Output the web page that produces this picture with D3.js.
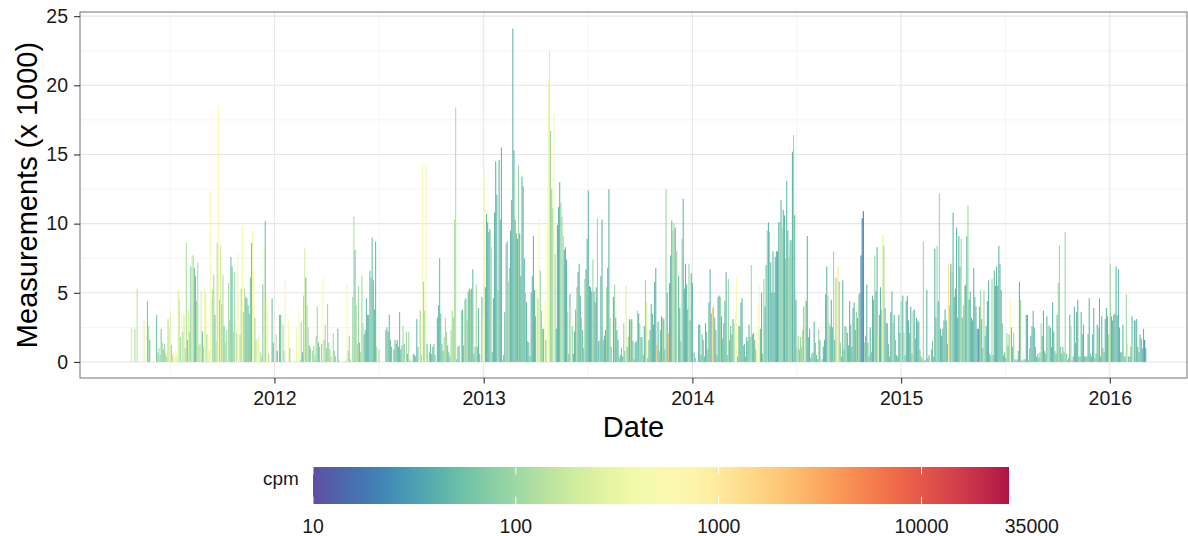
<!DOCTYPE html>
<html>
<head>
<meta charset="utf-8">
<script src="https://cdn.jsdelivr.net/npm/d3@7"></script>
<style>
  body { margin: 0; background: #fff; }
  text { font-family: "Liberation Sans", Arial, sans-serif; }
</style>
</head>
<body>
<div id="chart-area"></div>
<script>
// measurements (x 1000) in 2-day bins, each year starting at its start date
const start2011 = "2011-04-23"
const measurements2011 = [0,2.5,0,0,2.4,0,5.3,0,0,0, 0,0,3.1,0,0,4.4,2.6,1.6,0,0, 0,0,0,3.4,0.7,1.0,0.5,2.4,1.4,0.9,
  1.3,0.6,0.4,3.1,2.4,3.7,1.2,0.5,0.7,0.3, 0.8,0.4,5.2,4.5,1.8,3.4,2.2,3.4,1.0,8.6, 1.6,3.7,2.2,6.9,7.7,7.7,6.8,6.2,4.4,7.2,
  1.2,1.3,5.1,2.2,1.1,5.3,4.9,2.0,1.8,0.8, 12.4,4.5,5.2,6.3,3.4,1.5,8.6,18.5,4.5,8.4, 4.2,6.3,2.6,1.4,2.3,2.3,5.7,3.0,7.6,6.9,
  2.2,6.5,3.1,2.1,7.8,5.1,2.0,5.3,9.8,3.6, 5.3,4.7,4.6,4.1,3.5,6.1,8.6,9.5,6.7,3.2, 1.6,1.7,1.8,2.0,0.7,0.4,5.6,8.3,10.2,4.5,
  3.6,0.6,0,0,4.6,1.4]
const cpm2011 = [100,220,100,100,130,100,160,100,100,100, 100,100,260,100,100,70,130,60,100,100, 100,100,100,60,110,100,100,70,110,100,
  100,100,100,130,220,260,110,180,450,260, 450,260,220,220,110,450,110,220,130,130, 80,220,110,70,220,130,60,55,110,120,
  130,110,220,60,130,400,260,110,450,180, 550,450,130,110,60,130,120,650,110,220, 110,120,60,130,110,450,110,100,58,55,
  110,110,450,130,450,550,130,110,450,110, 120,60,58,58,60,70,58,400,450,110, 130,450,350,450,130,130,58,550,60,450,
  450,130,100,100,60,55]

const start2012 = "2012-01-01"
const measurements2012 = [0,2.0,0.8,0,3.4,3.4,0,2.7,0.8,5.9, 0,0,3.0,1.0,0,0,0,0.2,0,2.4, 0.8,3.7,0.1,2.9,0.7,4.8,8.2,6.1,4.1,2.5,
  1.2,1.0,0,0.8,1.2,0.5,1.9,4.0,1.4,1.1, 0,1.3,6.1,1.6,2.7,1.0,4.2,1.4,0.9,0.4, 0,2.1,0.8,0.4,0,2.4,0.1,0,0,0,
  0,0,0.1,5.6,0.8,1.9,0.2,0,4.7,10.5, 8.1,4.1,1.3,5.5,1.4,0.7,6.2,2.8,2.0,2.3, 4.6,3.4,3.4,6.6,6.1,9.0,5.9,3.8,8.7,1.1,
  0,0.9,0,0,0,0,0,2.3,2.5,2.2, 3.4,1.6,1.1,0,0.9,1.6,1.3,1.6,1.1,3.6, 0.9,1.2,2.6,1.3,0,2.2,0.6,2.2,0.2,0,
  0.1,0.6,0.5,0.4,3.1,1.1,0,3.7,0.5,14.3, 5.8,3.7,14.2,1.3,0,0.7,1.3,0.6,1.1,1.3, 0.5,0,3.2,4.1,7.5,3.5,1.3,0.8,1.8,3.2,
  2.2,1.2,0.7,0.4,2.3,3.7,3.2,10.3,18.4,0.2, 1.1,1.2,0,3.7,3.8,1.2,4.5,4.6,3.0,5.1, 5.3,5.2,5.3,6.7,0.6,1.1,5.6,1.1,3.9,0.6,
  0,4.7,3.2]
const cpm2012 = [100,130,45,100,60,55,100,110,100,550, 100,100,450,100,100,100,100,450,100,350, 450,450,100,110,55,120,220,60,110,110,
  60,100,100,100,110,100,100,110,60,100, 100,60,550,110,110,100,110,100,100,100, 100,110,100,100,100,55,100,100,100,100,
  100,100,100,550,100,110,100,100,110,130, 60,110,100,110,60,100,110,110,55,55, 55,55,45,58,58,55,55,55,55,100,
  100,110,100,100,100,100,100,55,55,55, 55,60,60,100,60,55,60,55,60,55, 60,60,110,60,100,110,60,110,100,100,
  100,60,60,60,55,60,100,110,100,550, 110,110,450,60,100,60,60,60,60,60, 60,100,55,55,55,55,60,60,110,110,
  110,60,60,60,110,110,110,130,130,60, 60,60,100,110,55,60,110,55,110,55, 55,110,55,55,60,60,110,60,55,60,
  100,55,450]

const start2013 = "2013-01-01"
const measurements2013 = [13.6,5.4,10.7,10.1,9.4,9.6,8.3,0.7,4.6,10.8, 14.5,12.1,5.2,14.6,10.3,15.5,0.1,0.5,3.6,8.5,
  8.7,5.8,6.8,9.5,11.7,24.1,15.3,10.3,9.3,8.9, 14.2,9.3,6.2,13.4,12.7,7.5,5.0,4.3,1.5,1.4, 0.4,5.0,6.2,9.1,5.2,3.3,5.3,4.6,10.4,6.6,
  3.7,2.4,2.4,4.4,1.6,9.8,20.4,22.5,16.7,12.5, 11.1,17.9,7.8,2.4,9.9,11.2,13.0,11.5,10.5,9.1, 8.1,8.3,7.4,3.6,0.6,4.9,4.0,2.6,0.6,2.2,
  3.8,5.4,6.5,7.1,4.8,3.2,2.3,1.0,6.0,6.7, 8.9,12.4,5.5,5.4,5.1,7.4,5.1,4.3,5.4,10.4, 1.5,1.6,6.2,10.3,1.6,1.9,2.3,5.4,6.8,12.5,
  3.2,1.1,0,4.7,5.6,3.2,2.3,1.6,0.3,0.5, 1.0,0.4,2.8,0.8,5.5,1.1,1.8,3.1,3.0,3.1, 1.5,0.2,1.4,1.5,3.7,3.5,2.8,1.8,1.8,0.5,
  2.6,5.9,4.3,0.3,1.6,2.3,4.2,3.5,2.7,5.8, 6.8,1.2,2.9,0.8,2.3,3.3,3.2,3.1,0.9,12.5, 5.0,2.1,5.7,7.7,10.2,9.5,10.0,9.7,8.0,8.1,
  6.2,3.9,1.5,8.9,11.8,5.3,7.1,5.6,3.8,7.1, 3.0,6.4,5.7]
const cpm2013 = [600,48,48,48,48,48,100,60,48,48, 48,48,100,48,48,48,60,60,48,100, 48,100,100,48,48,48,48,48,48,48,
  100,48,48,48,48,48,100,48,60,60, 60,48,48,48,48,48,500,100,500,100, 100,100,48,500,60,500,500,250,100,100,
  100,500,100,60,48,48,48,100,100,100, 48,48,48,100,60,48,500,100,60,48, 48,100,48,48,48,100,60,60,100,48,
  48,48,48,48,48,100,48,48,48,100, 60,100,48,48,60,48,48,100,48,48, 100,60,60,48,100,48,48,48,60,60,
  60,60,100,60,250,60,100,48,100,48, 60,60,48,60,100,48,100,60,60,60, 48,100,250,60,60,48,48,48,48,48,
  48,2500,48,60,60,48,100,48,60,100, 48,2500,48,48,48,100,100,48,100,500, 48,48,60,100,48,48,48,48,48,100,
  60,48,48]

const start2014 = "2014-01-01"
const measurements2014 = [0,0.7,0.3,0,0,2.7,2.7,0.5,2.0,1.6, 0.4,2.8,2.2,0.9,4.3,6.7,3.5,3.9,4.0,3.2, 2.3,0.5,4.7,4.8,4.7,3.3,1.7,2.8,4.4,6.5,
  0.5,6.0,1.6,2.6,2.0,3.1,2.8,3.6,6.2,0.4, 2.6,2.6,4.3,4.6,1.2,1.3,0.4,1.8,1.5,2.7, 1.8,7.0,2.0,2.1,1.6,0.9,2.2,4.1,5.6,2.4,
  5.0,0.6,6.0,4.0,7.0,9.5,10.1,9.4,7.2,5.0, 8.0,5.0,7.6,8.0,8.0,10.1,10.1,11.7,9.7,11.0, 10.6,7.5,13.1,9.5,7.6,8.8,8.8,15.2,16.4,10.6,
  4.5,1.0,1.9,0.9,1.8,1.1,2.3,4.0,4.7,4.4, 9.1,1.8,2.4,0.3,0.6,0.7,2.9,1.4,0.5,0.2, 2.4,1.6,0,0.2,1.1,1.6,4.9,6.9,4.8,2.8,
  2.6,4.5,2.5,8.0,1.6,6.1,6.0,6.9,5.8,1.4, 0.4,5.9,0.9,2.6,2.5,2.1,1.2,4.4,2.7,1.1, 3.9,4.3,2.3,3.6,3.2,4.9,5.0,7.7,10.4,10.9,
  1.4,1.9,5.6,1.4,0.4,2.5,0.7,4.8,4.5,7.7, 5.1,8.3,2.0,3.4,5.4,3.8,9.2,8.4,3.9,2.8, 2.8,1.3,0.4,3.6,5.1,2.8,3.4,1.6,0.5,0.4,
  3.4,2.1,4.4]
const cpm2014 = [60,48,60,60,60,48,48,60,48,60, 60,48,60,60,48,48,48,1500,100,60, 48,60,48,48,100,48,60,48,48,48,
  60,100,60,60,60,48,100,500,500,60, 100,48,48,48,60,60,60,48,60,48, 60,100,60,60,60,60,500,500,500,60,
  48,60,100,48,48,100,48,100,48,48, 48,48,48,48,48,48,100,48,100,48, 48,100,48,48,100,48,100,48,100,48,
  48,100,100,60,100,100,100,48,500,48, 48,60,48,60,60,60,48,60,60,60, 100,48,60,60,48,48,48,48,100,100,
  48,48,60,100,48,100,200,1200,100,100, 60,48,60,48,100,48,60,48,48,48, 48,48,48,100,48,100,48,22,22,22,
  100,60,48,60,60,48,60,48,48,100, 48,48,500,48,48,100,250,100,48,48, 60,60,60,48,48,100,48,60,60,60,
  48,48,100]

const start2015 = "2015-01-01"
const measurements2015 = [0,4.8,2.1,0.5,4.4,4.8,3.0,2.1,4.0,0.6, 3.7,3.8,1.7,3.2,3.0,2.9,0.9,0.4,0.2,8.7, 0.1,0.1,5.2,0.3,0.5,0,0.9,1.5,0.4,8.2,
  3.2,8.4,4.4,12.2,2.4,1.9,2.4,3.0,3.8,3.0, 1.3,7.1,4.1,7.1,6.5,10.8,4.7,5.3,9.7,3.2, 9.1,6.9,8.9,3.2,4.1,5.5,5.6,9.1,11.3,4.5,
  5.1,3.2,3.0,6.8,4.7,4.0,2.4,2.4,4.0,5.2, 3.1,1.0,5.2,1.9,2.6,4.4,5.9,0.6,0.5,6.0, 0.5,6.6,5.5,6.9,5.5,8.4,7.1,5.2,2.8,0.5,
  0.7,0.3,2.1,1.2,2.0,4.6,2.5,1.1,2.1,0.2, 0.1,0.2,0.8,5.8,4.5,0.1,0.1,0.2,0.2,3.4, 3.4,0.1,1.0,1.9,2.6,3.7,2.5,1.1,0.4,0.6,
  0.3,0.7,2.8,1.9,3.7,0.8,0.6,3.3,2.6,2.7, 2.5,1.1,4.3,2.2,0.8,0.6,3.4,5.7,8.4,1.1, 0.6,1.1,0.7,9.4,0.6,0.1,0.3,3.4,2.6,0.1,
  0.4,4.0,1.4,3.6,4.5,0.4,0.4,3.6,2.0,2.7, 0.4,0.4,0.4,2.0,4.6,0.6,0.4,2.0,3.9,0.3, 0.6,2.7,2.5,4.6,0.4,3.3,1.0,0.7,3.1,3.9,
  3.3,2.0,0]
const cpm2015 = [60,48,100,60,48,48,48,60,48,60, 100,48,60,48,60,48,60,60,60,100, 60,60,48,60,60,60,60,60,60,48,
  48,100,48,100,48,48,48,48,48,48, 60,1200,2500,48,100,48,48,48,48,48, 48,48,100,48,100,100,48,48,100,48,
  48,48,48,48,48,48,48,22,60,100, 48,60,100,60,48,48,48,60,60,100, 60,48,48,48,48,48,48,48,60,60,
  60,60,100,60,60,500,60,60,100,60, 60,60,60,48,100,60,60,60,60,48, 48,60,60,48,48,48,48,60,60,60,
  60,60,100,60,48,60,60,48,100,100, 48,60,48,48,60,60,48,100,100,60, 60,60,60,100,60,60,60,48,100,60,
  60,48,60,48,48,60,60,48,60,48, 60,60,60,48,48,60,60,48,48,60, 60,48,100,48,60,48,60,60,48,48,
  48,100,60]

const start2016 = "2016-01-01"
const measurements2016 = [7.1,3.3,3.0,3.4,3.5,6.9,3.4,6.7,2.5,0.7, 0.7,2.7,0.4,0.4,4.9,1.3,0.4,0.4,1.1,3.3,
  1.3,3.0,3.0,3.1,1.1,0.7,2.0,1.7,1.0,2.4, 1.6,1.0]
const cpm2016 = [100,48,48,48,48,48,48,48,48,60, 60,48,60,60,100,250,60,60,60,48, 500,48,100,48,48,60,48,48,60,48, 28,40]

// axis ticks and legend
const yTicks = [0, 5, 10, 15, 20, 25]
const yMinorTicks = [2.5, 7.5, 12.5, 17.5, 22.5]
const xTickYears = [2012, 2013, 2014, 2015, 2016]
const cpmBreaks = [10, 100, 1000, 10000, 35000]
const cpmLimits = [10, 27000]

const MARGIN = { LEFT: 80, RIGHT: 1, TOP: 12, BOTTOM: 158 }
const WIDTH = 1188 - MARGIN.LEFT - MARGIN.RIGHT
const HEIGHT = 536 - MARGIN.TOP - MARGIN.BOTTOM

const svg = d3.select("#chart-area")
  .append("svg")
    .attr("width", WIDTH + MARGIN.LEFT + MARGIN.RIGHT)
    .attr("height", HEIGHT + MARGIN.TOP + MARGIN.BOTTOM)
const g = svg.append("g")
    .attr("transform", `translate(${MARGIN.LEFT}, ${MARGIN.TOP})`)

const parse = d3.utcParse("%Y-%m-%d")

// flatten the yearly arrays into one list of bars
const years = [
  [start2011, measurements2011, cpm2011],
  [start2012, measurements2012, cpm2012],
  [start2013, measurements2013, cpm2013],
  [start2014, measurements2014, cpm2014],
  [start2015, measurements2015, cpm2015],
  [start2016, measurements2016, cpm2016]
]
const data = []
years.forEach(([start, values, cpm]) => {
  const t0 = parse(start)
  values.forEach((v, i) => {
    if (v > 0) data.push({ date: d3.utcDay.offset(t0, 2 * i), value: v, cpm: cpm[i] })
  })
})

// x (padded date range, like ggplot's expansion)
const x = d3.scaleUtc()
  .domain([parse("2011-01-26"), parse("2016-05-15")])
  .range([0, WIDTH])

// y
const y = d3.scaleLinear()
  .domain([-1.16, 25.3])
  .range([HEIGHT, 0])

const color = d3.scaleSequentialLog(t => d3.interpolateSpectral(1 - t))
  .domain([10, 35000])

// grid lines
const yearDates = xTickYears.map(yr => new Date(Date.UTC(yr, 0, 1)))
const xMinor = d3.range(2011, 2017).map(yr =>
  new Date((Date.UTC(yr, 0, 1) + Date.UTC(yr + 1, 0, 1)) / 2))
  .filter(d => x(d) > 0 && x(d) < WIDTH)

g.selectAll(".minor-y").data(yMinorTicks).enter().append("line")
  .attr("x1", 0).attr("x2", WIDTH)
  .attr("y1", d => y(d)).attr("y2", d => y(d))
  .attr("stroke", "#f3f3f3").attr("stroke-width", 0.8)
g.selectAll(".minor-x").data(xMinor).enter().append("line")
  .attr("y1", 0).attr("y2", HEIGHT)
  .attr("x1", d => x(d)).attr("x2", d => x(d))
  .attr("stroke", "#f3f3f3").attr("stroke-width", 0.8)
g.selectAll(".major-y").data(yTicks).enter().append("line")
  .attr("x1", 0).attr("x2", WIDTH)
  .attr("y1", d => y(d)).attr("y2", d => y(d))
  .attr("stroke", "#e6e6e6").attr("stroke-width", 1.1)
g.selectAll(".major-x").data(yearDates).enter().append("line")
  .attr("y1", 0).attr("y2", HEIGHT)
  .attr("x1", d => x(d)).attr("x2", d => x(d))
  .attr("stroke", "#e6e6e6").attr("stroke-width", 1.1)

// bars
g.selectAll("rect.bar")
  .data(data)
  .enter().append("rect")
    .attr("class", "bar")
    .attr("x", d => x(d.date))
    .attr("width", d => x(d3.utcHour.offset(d.date, 46)) - x(d.date))
    .attr("y", d => y(d.value))
    .attr("height", d => y(0) - y(d.value))
    .attr("fill", d => color(d.cpm))

// panel border
g.append("rect")
  .attr("width", WIDTH).attr("height", HEIGHT)
  .attr("fill", "none").attr("stroke", "#7f7f7f").attr("stroke-width", 1.1)

// axes
const yAxis = g.append("g")
  .call(d3.axisLeft(y).tickValues(yTicks).tickSize(6).tickPadding(6))
const xAxis = g.append("g")
  .attr("transform", `translate(0, ${HEIGHT})`)
  .call(d3.axisBottom(x).tickValues(yearDates).tickFormat(d3.utcFormat("%Y")).tickSize(5.5).tickPadding(7.7))
;[xAxis, yAxis].forEach(a => {
  a.select(".domain").remove()
  a.selectAll("line").attr("stroke", "#333").attr("stroke-width", 1.1)
  a.selectAll("text").attr("font-size", "19.5px").attr("fill", "#1a1a1a")
    .attr("font-family", "'Liberation Sans', Arial, sans-serif")
})

// axis titles
svg.append("text")
  .attr("x", MARGIN.LEFT + WIDTH / 2)
  .attr("y", 437)
  .attr("font-size", "29px")
  .attr("text-anchor", "middle")
  .attr("fill", "#000")
  .text("Date")
svg.append("text")
  .attr("transform", `translate(37, ${MARGIN.TOP + HEIGHT / 2}) rotate(-90)`)
  .attr("font-size", "29px")
  .attr("text-anchor", "middle")
  .attr("fill", "#000")
  .text("Measurements (x 1000)")

// colour bar legend
const legendX = d3.scaleLog().domain(cpmLimits).range([313, 1009])
const LEG = { TOP: 467, H: 37 }
const grad = svg.append("defs").append("linearGradient").attr("id", "cpm-grad")
d3.range(0, 41).forEach(i => {
  const v = Math.pow(10, Math.log10(cpmLimits[0]) + i / 40 * (Math.log10(cpmLimits[1]) - Math.log10(cpmLimits[0])))
  grad.append("stop").attr("offset", `${i / 40 * 100}%`).attr("stop-color", color(v))
})
svg.append("rect")
  .attr("x", legendX(cpmLimits[0])).attr("y", LEG.TOP)
  .attr("width", legendX(cpmLimits[1]) - legendX(cpmLimits[0])).attr("height", LEG.H)
  .attr("fill", "url(#cpm-grad)")
const inBar = cpmBreaks.filter(v => v <= cpmLimits[1])
;[[LEG.TOP, LEG.TOP + 7.4], [LEG.TOP + LEG.H - 7.4, LEG.TOP + LEG.H]].forEach(([y1, y2]) => {
  svg.selectAll(null).data(inBar).enter().append("line")
    .attr("x1", d => legendX(d)).attr("x2", d => legendX(d))
    .attr("y1", y1).attr("y2", y2)
    .attr("stroke", "#fff").attr("stroke-width", 1)
})
svg.selectAll(".leg-label").data(cpmBreaks).enter().append("text")
  .attr("x", d => legendX(d))
  .attr("y", 533)
  .attr("font-size", "19.5px")
  .attr("text-anchor", "middle")
  .attr("fill", "#1a1a1a")
  .text(d => d)
svg.append("text")
  .attr("x", 263).attr("y", 485)
  .attr("font-size", "19px")
  .attr("fill", "#1a1a1a")
  .text("cpm")
</script>
</body>
</html>
